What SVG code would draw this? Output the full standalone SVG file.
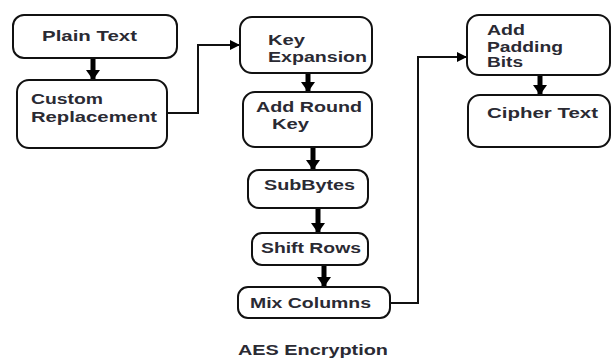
<svg xmlns="http://www.w3.org/2000/svg" width="613" height="361" viewBox="0 0 613 361">
<defs>
<style>
.box{fill:#fff;stroke:#111;stroke-width:2}
.t{font-family:"Liberation Sans",Arial,sans-serif;font-weight:bold;font-size:14px;fill:#2a2a33}
.thick{stroke:#000;stroke-width:5;fill:none}
.thin{stroke:#111;stroke-width:2;fill:none}
</style>
<marker id="big" markerUnits="userSpaceOnUse" markerWidth="14" markerHeight="14" refX="10" refY="7" orient="auto">
<path d="M0,0 L10,7 L0,14 Z" fill="#000"/>
</marker>
<marker id="small" markerUnits="userSpaceOnUse" markerWidth="12" markerHeight="10" refX="10" refY="5" orient="auto">
<path d="M0,0 L10,5 L0,10 Z" fill="#000"/>
</marker>
</defs>
<rect width="613" height="361" fill="#fff"/>
<g id="connectors">
<line class="thick" x1="93" y1="58" x2="93" y2="80" marker-end="url(#big)"/>
<polyline class="thin" points="167,113 198,113 198,45 240,45" marker-end="url(#small)"/>
<line class="thick" x1="308" y1="73" x2="308" y2="92" marker-end="url(#big)"/>
<line class="thick" x1="313" y1="147" x2="313" y2="170" marker-end="url(#big)"/>
<line class="thick" x1="318" y1="208" x2="318" y2="233" marker-end="url(#big)"/>
<line class="thick" x1="324" y1="265" x2="324" y2="287" marker-end="url(#big)"/>
<polyline class="thin" points="390,303 418,303 418,57 467,57" marker-end="url(#small)"/>
<line class="thick" x1="540" y1="75" x2="540" y2="95" marker-end="url(#big)"/>
</g>
<g id="plain-text">
<rect class="box" x="13" y="15" width="164" height="43" rx="11"/>
<text class="t" x="42" y="41" textLength="95" lengthAdjust="spacingAndGlyphs">Plain Text</text>
</g>
<g id="custom-replacement">
<rect class="box" x="17" y="80" width="150" height="68" rx="12"/>
<text class="t" x="31" y="104" textLength="72" lengthAdjust="spacingAndGlyphs">Custom</text>
<text class="t" x="31" y="122" textLength="126" lengthAdjust="spacingAndGlyphs">Replacement</text>
</g>
<g id="key-expansion">
<rect class="box" x="240" y="17" width="132" height="56" rx="12"/>
<text class="t" x="268" y="45" textLength="37" lengthAdjust="spacingAndGlyphs">Key</text>
<text class="t" x="268" y="62" textLength="99" lengthAdjust="spacingAndGlyphs">Expansion</text>
</g>
<g id="add-round-key">
<rect class="box" x="243" y="92" width="129" height="55" rx="12"/>
<text class="t" x="256" y="112" textLength="106" lengthAdjust="spacingAndGlyphs">Add Round</text>
<text class="t" x="272" y="129" textLength="37" lengthAdjust="spacingAndGlyphs">Key</text>
</g>
<g id="subbytes">
<rect class="box" x="248" y="170" width="120" height="38" rx="11"/>
<text class="t" x="264" y="190" textLength="91" lengthAdjust="spacingAndGlyphs">SubBytes</text>
</g>
<g id="shift-rows">
<rect class="box" x="252" y="233" width="116" height="32" rx="10"/>
<text class="t" x="261" y="253" textLength="100" lengthAdjust="spacingAndGlyphs">Shift Rows</text>
</g>
<g id="mix-columns">
<rect class="box" x="238" y="287" width="152" height="31" rx="10"/>
<text class="t" x="250" y="308" textLength="121" lengthAdjust="spacingAndGlyphs">Mix Columns</text>
</g>
<g id="add-padding-bits">
<rect class="box" x="467" y="15" width="143" height="60" rx="12"/>
<text class="t" x="487" y="35" textLength="38" lengthAdjust="spacingAndGlyphs">Add</text>
<text class="t" x="487" y="52" textLength="76" lengthAdjust="spacingAndGlyphs">Padding</text>
<text class="t" x="487" y="67" textLength="36" lengthAdjust="spacingAndGlyphs">Bits</text>
</g>
<g id="cipher-text">
<rect class="box" x="468" y="95" width="142" height="52" rx="12"/>
<text class="t" x="487" y="118" textLength="111" lengthAdjust="spacingAndGlyphs">Cipher Text</text>
</g>
<text class="t" x="238" y="355" textLength="150" lengthAdjust="spacingAndGlyphs">AES Encryption</text>
</svg>
